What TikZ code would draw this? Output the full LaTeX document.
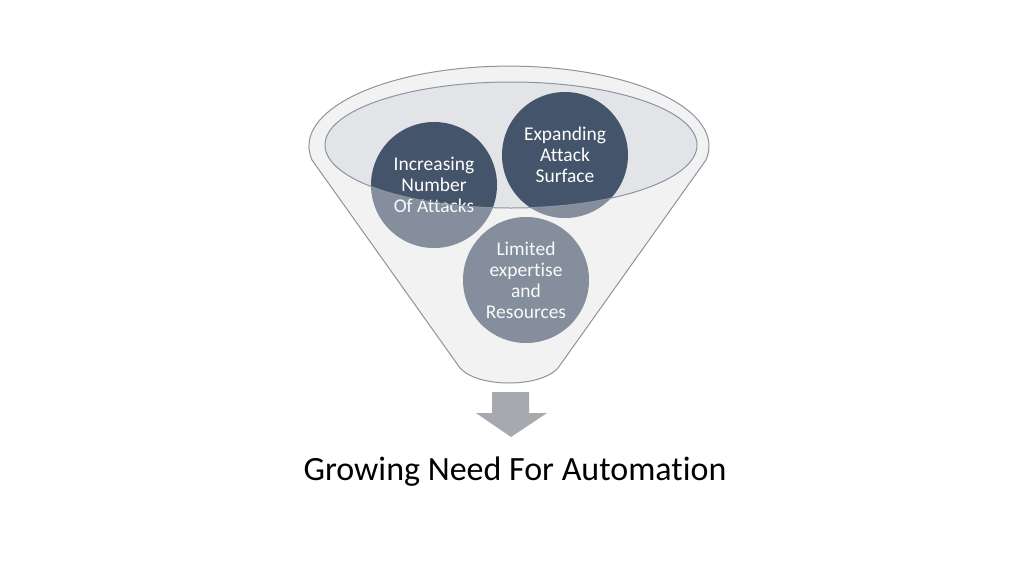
\documentclass[tikz,border=0pt]{standalone}
\usepackage{fontspec}
\setmainfont{Carlito}[Ligatures=NoCommon]
\definecolor{slate}{HTML}{44546A}
\definecolor{funnelgray}{HTML}{F2F2F2}
\definecolor{mouthgray}{HTML}{E2E4E7}
\definecolor{rimline}{HTML}{8A95A3}
\definecolor{arrowgray}{HTML}{A6A9AE}
\begin{document}
\begin{tikzpicture}[x=1pt, y=-1pt,
    bubble/.style={circle, fill=slate, text=white, minimum size=126pt, inner sep=0pt, align=center, font=\fontsize{19.5}{21}\selectfont},
    rim/.style={draw=rimline, line width=1pt},
    caption/.style={font=\fontsize{34}{38}\selectfont, text=black}
]
\useasboundingbox (0,0) rectangle (1024,576);
\fill[white] (0,0) rectangle (1024,576);

% funnel body and mouth
\fill[funnelgray] (460,368) -- (312,160) arc[start angle=170, end angle=370, x radius=200, y radius=80] -- (558,368) .. controls (540,388) and (478,388) .. cycle;
\fill[mouthgray] (511,145) ellipse[x radius=186, y radius=63];

% the three bubbles
\node[bubble] (attacks) at (434,185) {Increasing\\Number\\Of Attacks};
\node[bubble] (surface) at (565,155) {Expanding\\Attack\\Surface};
\node[bubble] (limited) at (526,280) {Limited\\expertise\\and\\Resources};

% front of the funnel over the bubbles
\fill[funnelgray, fill opacity=0.37, even odd rule] (460,368) -- (312,160) arc[start angle=170, end angle=370, x radius=200, y radius=80] -- (558,368) .. controls (540,388) and (478,388) .. cycle (511,145) ellipse[x radius=186, y radius=63];
\draw[rim] (460,368) -- (312,160) arc[start angle=170, end angle=370, x radius=200, y radius=80] -- (558,368) .. controls (540,388) and (478,388) .. cycle;
\draw[rim] (511,145) ellipse[x radius=186, y radius=63];

% arrow and result
\fill[arrowgray] (492,392) -- (529,392) -- (529,413) -- (547,413) -- (511,437) -- (476,413) -- (492,413) -- cycle;
\node[caption, anchor=base] (need) at (515,480) {Growing Need For Automation};
\end{tikzpicture}
\end{document}
